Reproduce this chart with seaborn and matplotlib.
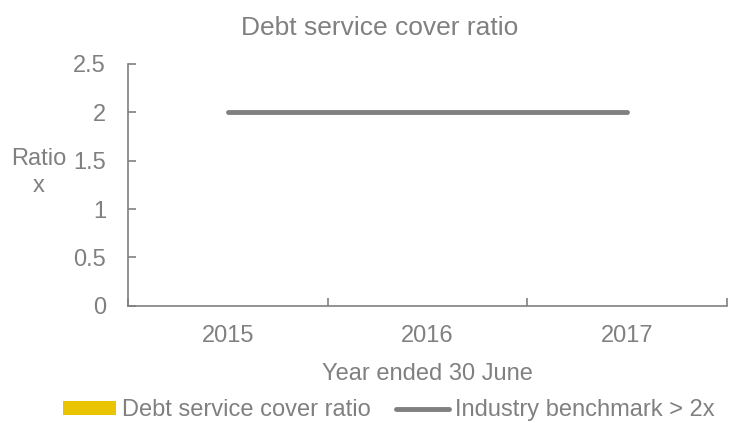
import matplotlib
matplotlib.use('Agg')
import matplotlib.pyplot as plt
import seaborn as sns
import pandas as pd
from matplotlib.patches import Patch
from matplotlib.lines import Line2D

# chart data
years = ['2015', '2016', '2017']
dscr = [0, 0, 0]               # no bars visible in the chart
benchmark = [2, 2, 2]

grey = '#808080'
yellow = '#EBC400'

sns.set_style('white')
plt.rcParams['font.family'] = ['Liberation Sans', 'DejaVu Sans']
plt.rcParams['text.color'] = grey

fs = 17

df = pd.DataFrame({'Year': years, 'DSCR': dscr, 'Benchmark': benchmark})

fig = plt.figure(figsize=(7.32, 4.23), dpi=100)
ax = fig.add_axes([0.175, 0.277, 0.818, 0.572])

sns.barplot(data=df, x='Year', y='DSCR', color=yellow, width=0.5, ax=ax)
sns.lineplot(data=df, x='Year', y='Benchmark', color=grey, linewidth=3.5,
             solid_capstyle='round', ax=ax)

ax.set_ylim(0, 2.5)
ax.set_xlim(-0.5, 2.5)
ax.set_yticks([0, 0.5, 1, 1.5, 2, 2.5])
ax.set_yticklabels(['0', '0.5', '1', '1.5', '2', '2.5'])

# category boundary ticks, labels in the middle
ax.set_xticks([-0.5, 0.5, 1.5, 2.5])
ax.set_xticklabels([])
ax.set_xticks([0, 1, 2], minor=True)
ax.set_xticklabels(years, minor=True)
ax.tick_params(axis='x', which='major', bottom=True, direction='in', length=6,
               width=1.2, color=grey)
ax.tick_params(axis='x', which='minor', bottom=True, length=0, pad=14,
               labelcolor=grey, labelsize=fs)
ax.tick_params(axis='y', left=True, direction='in', length=6, width=1.2, color=grey,
               pad=16, labelcolor=grey, labelsize=fs)

sns.despine(ax=ax)
for s in ['left', 'bottom']:
    ax.spines[s].set_color(grey)
    ax.spines[s].set_linewidth(1.2)

ax.set_title('Debt service cover ratio', color=grey, fontsize=19, pad=21, x=0.42)
ax.set_xlabel('Year ended 30 June', color=grey, fontsize=fs, labelpad=11)
ax.set_ylabel('Ratio\nx', color=grey, fontsize=fs, rotation=0, va='center', ha='center',
              linespacing=1.3)
ax.yaxis.set_label_coords(-0.15, 0.55)

handles = [Patch(facecolor=yellow, edgecolor='none'),
           Line2D([0], [0], color=grey, linewidth=3.5, solid_capstyle='round')]
fig.legend(handles, ['Debt service cover ratio', 'Industry benchmark > 2x'],
           loc='center', bbox_to_anchor=(0.531, 0.03), ncol=2, frameon=False,
           handlelength=2.25, handleheight=0.55, handletextpad=0.25,
           columnspacing=1.05, borderpad=0, fontsize=fs, labelcolor=grey)

fig.savefig('out.png', dpi=100)
